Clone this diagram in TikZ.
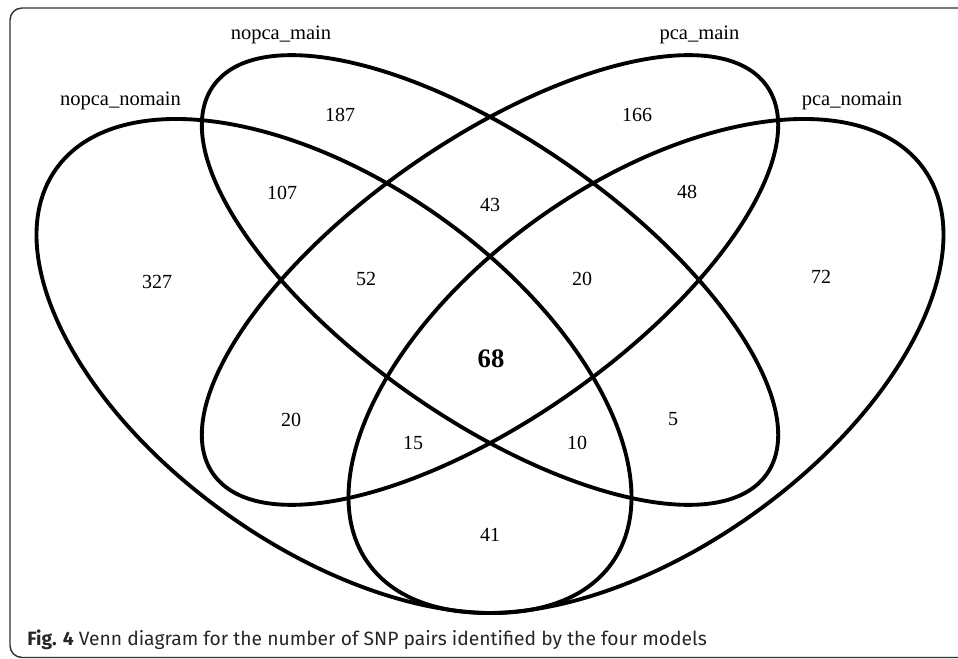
\documentclass[tikz,border=0pt]{standalone}
\usepackage{fontspec}
\setmainfont{Liberation Serif}
\newfontfamily\capfont{Fira Sans}
\begin{document}
\begin{tikzpicture}[x=0.75pt,y=-0.75pt,
  venn/.style={line width=2.9pt},
  lab/.style={font=\fontsize{15.4}{18}\selectfont, anchor=base, inner sep=0},
  num/.style={font=\fontsize{15}{18}\selectfont, inner sep=0},
  big/.style={font=\bfseries\fontsize{20}{24}\selectfont, inner sep=0},
]
\useasboundingbox (0,0) rectangle (958,659);
\begin{scope}
\clip (0,0) rectangle (958,659);
\draw[black!80, line width=1.1pt, rounded corners=9] (990,8) -- (10,8) -- (10,657.5) -- (990,657.5);
\end{scope}
% ellipses
\draw[venn, rotate around={-35.3:(334,366)}] (334,366) ellipse [x radius=340.7, y radius=182.8];
\draw[venn, rotate around={35.3:(646,366)}] (646,366) ellipse [x radius=340.7, y radius=182.8];
\draw[venn, rotate around={-35:(490,280)}] (490,280) ellipse [x radius=338, y radius=139];
\draw[venn, rotate around={35:(490,280)}] (490,280) ellipse [x radius=338, y radius=139];
% set labels
\node[lab] (l1) at (120.5,106) {nopca\_nomain};
\node[lab] (l2) at (281,40) {nopca\_main};
\node[lab] (l3) at (699.5,40) {pca\_main};
\node[lab] (l4) at (852,106) {pca\_nomain};
% counts
\node[num] (n187) at (340,115) {187};
\node[num] (n166) at (637,115) {166};
\node[num] (n107) at (282,193) {107};
\node[num] (n48) at (687,192) {48};
\node[num] (n43) at (490,205) {43};
\node[num] (n327) at (157,282) {327};
\node[num] (n72) at (821,277) {72};
\node[num] (n52) at (366,279) {52};
\node[num] (n20a) at (582,279) {20};
\node[big] (n68) at (491,359) {68};
\node[num] (n20b) at (291,420) {20};
\node[num] (n5) at (673,419) {5};
\node[num] (n15) at (413,443) {15};
\node[num] (n10) at (577,443) {10};
\node[num] (n41) at (490,535) {41};
% caption
\node[anchor=base west, inner sep=0, text=black!85, font=\capfont\fontsize{14.45}{16}\selectfont] (cap) at (27,645) {\textbf{Fig. 4} Venn diagram for the number of SNP pairs identified by the four models};
\end{tikzpicture}
\end{document}
